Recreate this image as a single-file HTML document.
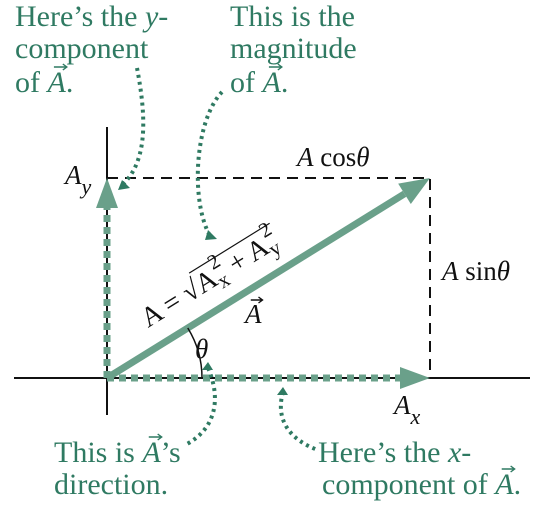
<!DOCTYPE html>
<html><head><meta charset="utf-8"><style>
html,body{margin:0;padding:0;background:#fff;}
svg text{font-family:"Liberation Serif","DejaVu Serif",serif;}
</style></head><body>
<svg id="fig" width="547" height="504" viewBox="0 0 547 504">
<g id="plot"></g>
<g fill="#2f7a62" font-size="30">
<text x="15" y="26">Here’s the <tspan font-style="italic">y</tspan>-</text>
<text x="15" y="58">component</text>
<text x="15" y="92">of <tspan class="vec" font-style="italic">A</tspan>.</text>
<text x="230" y="26">This is the</text>
<text x="230" y="58">magnitude</text>
<text x="230" y="92">of <tspan class="vec" font-style="italic">A</tspan>.</text>
<text x="54" y="462">This is <tspan class="vec" font-style="italic">A</tspan>’s</text>
<text x="54" y="494">direction.</text>
<text x="318" y="462">Here’s the <tspan font-style="italic">x</tspan>-</text>
<text x="322" y="494">component of <tspan class="vec" font-style="italic">A</tspan>.</text>
</g>
<g fill="none" stroke="#2f7a62" stroke-width="4" stroke-dasharray="3,4">
<path d="M137,68 C145,110 150,160 122,185"/>
<path d="M222,92 C195,120 190,200 210,236"/>
<path d="M208,368 C222,400 215,430 185,445"/>
<path d="M283,392 C275,420 290,440 318,450"/>
</g>
<g fill="#2f7a62"><path d="M118,190 l12,-2 l-8,-8z"/><path d="M205,240 l12,-1 l-9,-9z"/><path d="M208,362 l-6,8 l11,0z"/><path d="M283,387 l-6,8 l11,0z"/></g>
</svg>
<script>
const componentNames = ["Ax", "Ay"];
const componentValues = [323, 200];
const originX = 107, originY = 378;
const sx = v => originX + v, sy = v => originY - v;
const NS = "http://www.w3.org/2000/svg";
const svg = document.getElementById("fig");
const plot = document.getElementById("plot");
function mk(tag, attrs, parent){const e=document.createElementNS(NS,tag);for(const k in attrs)e.setAttribute(k,attrs[k]);(parent||plot).appendChild(e);return e;}
const ax = componentValues[0], ay = componentValues[1];
let e;
e = mk("line",{x1:14,y1:originY,x2:530,y2:originY,stroke:"#111","stroke-width":2});


e = mk("line",{x1:originX,y1:127,x2:originX,y2:415,stroke:"#111","stroke-width":2});


e = mk("path",{d:`M${sx(0)},${sy(ay)} H${sx(ax)} V${sy(0)}`,fill:"none",stroke:"#111","stroke-width":2,"stroke-dasharray":"11,7"});


e = mk("line",{x1:sx(0),y1:sy(0),x2:sx(ax)-24,y2:sy(0),stroke:"#6aa08a","stroke-width":7,"stroke-dasharray":"7,5"});


e = mk("path",{d:`M${sx(ax)},${sy(0)} l-30,-11 l0,22z`,fill:"#6aa08a"});


e = mk("line",{x1:sx(0),y1:sy(0),x2:sx(0),y2:sy(ay)+24,stroke:"#6aa08a","stroke-width":7,"stroke-dasharray":"7,5"});


e = mk("path",{d:`M${sx(0)},${sy(ay)} l-11,30 l22,0z`,fill:"#6aa08a"});


const ang = Math.atan2(ay, ax);
const bx = sx(ax) - 30*Math.cos(ang), by = sy(ay) + 30*Math.sin(ang);
e = mk("line",{x1:sx(0),y1:sy(0),x2:bx,y2:by,stroke:"#6aa08a","stroke-width":7});


const px = 12*Math.sin(ang), py = 12*Math.cos(ang);
e = mk("path",{d:`M${sx(ax)},${sy(ay)} L${bx-px},${by-py} L${bx+px},${by+py}z`,fill:"#6aa08a"});


const r = 95;
e = mk("path",{d:`M${sx(r*Math.cos(ang))},${sy(r*Math.sin(ang))} A${r},${r} 0 0 1 ${sx(r)},${sy(0)}`,fill:"none",stroke:"#111","stroke-width":1.5});


function t(x,y,html,name,extra){const el=mk("text",Object.assign({x:x,y:y,fill:"#111","font-size":27},extra||{}));el.innerHTML=html;return el;}
t(sx(ax)-133, sy(ay)-12, '<tspan font-style="italic">A</tspan> cos<tspan font-style="italic">θ</tspan>', 'a-cos-theta-label');
t(sx(ax)+12, sy(ay/2)+2, '<tspan font-style="italic">A</tspan> sin<tspan font-style="italic">θ</tspan>', 'a-sin-theta-label');
t(sx(0)-42, sy(ay)+6, '<tspan font-style="italic">A</tspan><tspan font-style="italic" font-size="22" dy="10">y</tspan>', 'ay-label');
t(sx(ax)-36, sy(0)+36, '<tspan font-style="italic">A</tspan><tspan font-style="italic" font-size="22" dy="10">x</tspan>', 'ax-label');
t(sx(88), sy(0)-20, '<tspan font-style="italic">θ</tspan>', 'theta-label');
t(sx(138), sy(0)-55, '<tspan class="vec" font-style="italic">A</tspan>', 'vector-a-label');
const fx = 148, fy = 328, deg = -ang*180/Math.PI;
const f = t(fx, fy, 'A = √A<tspan font-size="21" dy="6">x</tspan><tspan font-size="21" dy="-21" dx="-9">2</tspan><tspan dy="15"> + A</tspan><tspan font-size="21" dy="6">y</tspan><tspan font-size="21" dy="-21" dx="-9">2</tspan>', 'magnitude-formula', {"font-size":28, transform:`rotate(${deg} ${fx} ${fy})`});
try{
  const n = f.getNumberOfChars();
  const i = f.textContent.indexOf("√");
  const s = f.getEndPositionOfChar(i).x;
  const end = f.getEndPositionOfChar(n-1).x + 2;
  e = mk("line",{x1:s,y1:fy-25,x2:end,y2:fy-25,stroke:"#111","stroke-width":1.2,transform:`rotate(${deg} ${fx} ${fy})`});
}catch(err){
  e = mk("line",{x1:fx+58,y1:fy-25,x2:fx+200,y2:fy-25,stroke:"#111","stroke-width":1.2,transform:`rotate(${deg} ${fx} ${fy})`});
}


document.querySelectorAll("tspan.vec").forEach(ts=>{
  const txt = ts.parentNode;
  const col = txt.getAttribute("fill") || txt.parentNode.getAttribute("fill") || "#2f7a62";
  const idx = txt.textContent.lastIndexOf("A");
  const ext = txt.getExtentOfChar(idx);
  const x0 = ext.x + ext.width*0.35, x1 = ext.x + ext.width + 1, y = ext.y + 1;
  const a = mk("path",{d:`M${x0},${y} L${x1},${y} M${x1-4},${y-3} L${x1},${y} L${x1-4},${y+3}`,fill:"none",stroke:col,"stroke-width":1.4}, svg);
  
  
});
</script>
</body></html>
